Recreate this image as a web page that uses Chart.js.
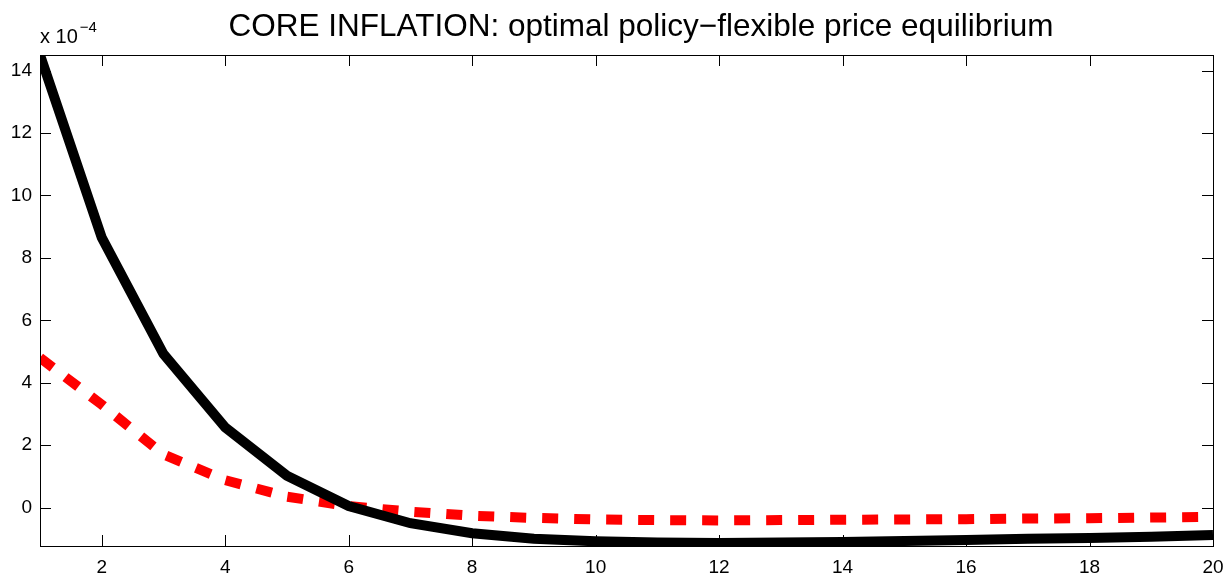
<!DOCTYPE html>
<html><head><meta charset="utf-8">
<script src="https://cdn.jsdelivr.net/npm/chart.js@4.4.0/dist/chart.umd.min.js"></script>
<style>html,body{margin:0;padding:0;background:#fff}#wrap{width:1228px;height:578px}</style>
</head><body><div id="wrap"><canvas id="c"></canvas></div>
<script>
const periods = [1,2,3,4,5,6,7,8,9,10,11,12,13,14,15,16,17,18,19,20];
const optimalPolicy = [14.5,8.65,4.92,2.57,1.02,0.05,-0.5,-0.82,-1.0,-1.08,-1.12,-1.13,-1.12,-1.1,-1.07,-1.04,-1.0,-0.97,-0.93,-0.88];
const flexiblePrice = [4.8,3.3,1.7,0.88,0.35,0.05,-0.13,-0.26,-0.33,-0.38,-0.4,-0.41,-0.4,-0.39,-0.38,-0.37,-0.35,-0.34,-0.32,-0.3];
const xTicks = [2,4,6,8,10,12,14,16,18,20];
const yTicks = [0,2,4,6,8,10,12,14];
const titleText = 'CORE INFLATION: optimal policy\u2212flexible price equilibrium';
const FONT = 'Liberation Sans, Arial, sans-serif';

const decor = {
  id: 'decor',
  afterDraw(chart) {
    const {ctx, chartArea: a, scales: {x, y}} = chart;
    ctx.save();
    ctx.strokeStyle = '#000'; ctx.lineWidth = 1;
    ctx.strokeRect(a.left + 0.5, a.top + 0.5, a.right - a.left, a.bottom - a.top);
    const L = 11;
    ctx.beginPath();
    xTicks.forEach(v => { const px = Math.round(x.getPixelForValue(v)) + 0.5;
      ctx.moveTo(px, a.bottom); ctx.lineTo(px, a.bottom - L);
      ctx.moveTo(px, a.top); ctx.lineTo(px, a.top + L); });
    yTicks.forEach(v => { const py = Math.round(y.getPixelForValue(v)) + 0.5;
      ctx.moveTo(a.left, py); ctx.lineTo(a.left + L, py);
      ctx.moveTo(a.right, py); ctx.lineTo(a.right - L, py); });
    ctx.stroke();
    ctx.fillStyle = '#000';
    ctx.font = '31.5px ' + FONT; ctx.textAlign = 'center'; ctx.textBaseline = 'alphabetic';
    ctx.fillText(titleText, 641, 36);
    ctx.textAlign = 'left';
    ctx.font = '20px ' + FONT;
    ctx.fillText('x 10', 40, 43);
    const w = ctx.measureText('x 10').width;
    ctx.font = '15px ' + FONT;
    ctx.fillText('\u22124', 40 + w + 2, 32);
    ctx.restore();
  }
};

new Chart(document.getElementById('c'), {
  type: 'line',
  data: {
    datasets: [
      { data: periods.map((p, i) => ({x: p, y: optimalPolicy[i]})), borderColor: '#000', borderWidth: 10, pointRadius: 0, tension: 0, borderJoinStyle: 'miter' },
      { data: periods.map((p, i) => ({x: p, y: flexiblePrice[i]})), borderColor: '#ff0000', borderWidth: 10, borderDash: [16, 16], borderCapStyle: 'butt', pointRadius: 0, tension: 0 }
    ]
  },
  options: {
    responsive: true, maintainAspectRatio: false, animation: false,
    layout: { padding: { top: 55, right: 15, left: 0, bottom: 0 } },
    plugins: { legend: { display: false }, tooltip: { enabled: false } },
    scales: {
      x: { type: 'linear', min: 1, max: 20,
        afterBuildTicks: s => { s.ticks = xTicks.map(v => ({value: v})); },
        afterFit: s => { s.height = 32; s.paddingLeft = 0; s.paddingRight = 0; },
        grid: { display: false, drawTicks: false }, border: { display: false },
        ticks: { color: '#000', font: { family: FONT, size: 19 }, padding: 10, maxRotation: 0 } },
      y: { type: 'linear', min: -1.23, max: 14.5,
        afterBuildTicks: s => { s.ticks = yTicks.map(v => ({value: v})); },
        afterFit: s => { s.width = 40; s.paddingTop = 0; s.paddingBottom = 0; },
        grid: { display: false, drawTicks: false }, border: { display: false },
        ticks: { color: '#000', font: { family: FONT, size: 19 }, padding: 8 } }
    }
  },
  plugins: [decor]
});
</script></body></html>
